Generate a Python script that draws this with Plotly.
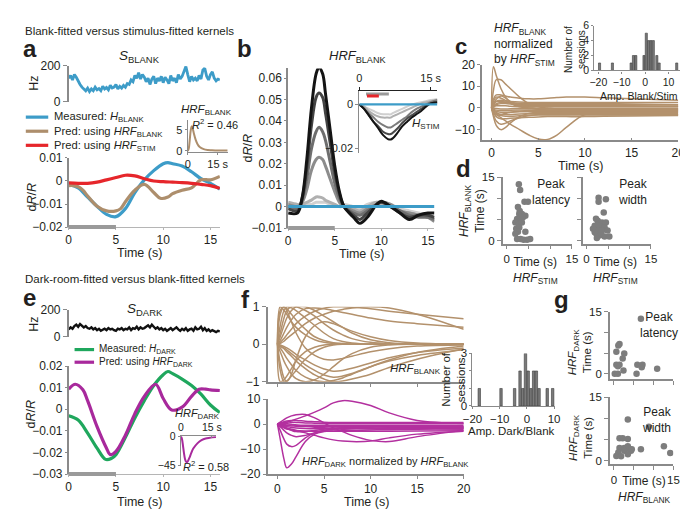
import plotly.graph_objects as go

W, H = 688, 511
FONT = "Liberation Sans, Arial, Helvetica, sans-serif"
TXT = "#231f20"
AXC = "#8a8a8a"
BLUE = "#3d9cc8"
TAN = "#ad8e6c"
TAN2 = "#b3916c"
RED = "#e6262b"
GREEN = "#1fa75d"
MAG = "#a8299c"
MAG2 = "#b3309f"
DOT = "#7d7d7d"
STIM = "#9a9a9a"

# ---------------- data ----------------
stim_window = [0, 5]

# panel a: S_BLANK (0..16 s, 0.2 s samples)
t_s = [round(0.2 * i, 1) for i in range(81)]
s_blank = [130, 145, 120, 150, 135, 110, 95, 80, 70, 60, 75,
           55, 70, 60, 80, 65, 72, 60, 85, 70, 78,
           65, 90, 75, 80, 95, 70, 85, 75, 90, 80,
           100, 95, 120, 110, 145, 130, 160, 125, 150, 135,
           110, 130, 95, 125, 140, 100, 130, 115, 140, 105,
           135, 120, 100, 145, 115, 130, 105, 150, 125, 140,
           165, 195, 150, 110, 140, 120, 130, 115, 145, 125,
           175, 185, 140, 120, 150, 165, 130, 115, 125, 120]

t_meas_a = [0, 1, 2, 3, 4, 5, 6, 7, 8, 9, 10, 10.5, 11, 12, 13, 14, 15, 16]
meas_blank = [-0.0015, -0.003, -0.007, -0.011, -0.0145, -0.0155, -0.012, -0.005, 0.0005, 0.0045,
              0.0075, 0.008, 0.0075, 0.0065, 0.004, 0.001, -0.001, -0.0035]
t_pred_a = [0, 0.5, 1, 1.5, 2, 3, 4, 5, 5.5, 6, 7, 8, 9, 9.7, 10.5, 11, 12, 13, 14, 15, 16]
pred_blank = [-0.002, -0.002, -0.0025, -0.004, -0.0065, -0.011, -0.013, -0.013, -0.012, -0.009,
              -0.004, -0.0015, -0.005, -0.0075, -0.007, -0.0055, -0.004, -0.003, 0.0005, 0.0005, 0.002]
t_stim_a = [0, 1, 2, 3, 4, 5, 6, 7, 8, 9, 10, 11, 12, 13, 14, 15, 16]
pred_stim = [-0.0008, -0.001, -0.001, -0.0005, 0.0005, 0.0015, 0.0025, 0.0022, 0.001, 0.0,
             -0.0003, -0.0005, -0.0007, -0.001, -0.0015, -0.002, -0.0032]

t_hrf_a = [0, 0.5, 1, 1.5, 2, 2.5, 3, 4, 5, 6, 8, 10, 12, 15, 20]
hrf_blank_a = [0, 0.5, 2.5, 4.8, 5.8, 5.3, 4.3, 2.6, 1.5, 0.9, 0.4, 0.2, 0.15, 0.1, 0.1]

# panel b: HRF_BLANK family
t_b = [0, 1, 1.5, 2, 2.5, 3, 3.3, 3.7, 4, 4.5, 5, 5.5, 6, 7, 7.7, 8.5, 9.5, 10, 11, 12, 13, 14, 15, 15.7]
b_lighter = [0.001, 0.001, 0.001, 0.001, 0.001, 0.002, 0.002, 0.002, 0.002, 0.001, 0.001, 0.000,
             0.001, 0.000, -0.001, 0.001, 0.002, 0.002, 0.001, -0.001, -0.002, -0.003, -0.004, -0.005]
b_light = [0.002, 0.001, 0.001, 0.002, 0.003, 0.0045, 0.0045, 0.004, 0.003, 0.002, 0.001, 0.000,
           0.000, -0.001, -0.002, 0.000, 0.002, 0.001, 0.000, -0.002, -0.003, -0.004, -0.005, -0.006]
b_mid = [0.001, 0.000, 0.002, 0.008, 0.017, 0.022, 0.023, 0.022, 0.019, 0.013, 0.007, 0.002,
         0.000, -0.002, -0.003, -0.001, 0.001, 0.002, 0.001, -0.002, -0.003, -0.004, -0.005, -0.007]
b_gray = [0.000, -0.001, 0.003, 0.013, 0.027, 0.035, 0.037, 0.035, 0.031, 0.021, 0.011, 0.004,
          0.000, -0.003, -0.004, -0.002, 0.001, 0.002, 0.000, -0.002, -0.004, -0.005, -0.005, -0.006]
b_dark = [-0.001, -0.002, 0.004, 0.018, 0.038, 0.051, 0.053, 0.051, 0.044, 0.030, 0.016, 0.006,
          0.000, -0.004, -0.006, -0.003, 0.001, 0.002, 0.000, -0.003, -0.005, -0.004, -0.004, -0.005]
b_black = [-0.003, -0.003, 0.004, 0.022, 0.046, 0.062, 0.065, 0.062, 0.053, 0.036, 0.019, 0.007,
           0.000, -0.005, -0.0078, -0.005, 0.001, 0.0025, 0.000, -0.003, -0.006, -0.004, -0.003, -0.003]
b_measured = [0, 0, 0, 0, 0, 0, 0, 0, 0, 0, 0, 0, 0, 0, 0, 0, 0, 0, 0, 0, 0, 0, 0, 0]

t_bin = [0, 1, 2, 3, 4, 5, 6, 6.6, 7, 8, 9, 10, 11, 12, 13, 14, 15, 16.4]
hs_black = [0.000, -0.002, -0.005, -0.008, -0.011, -0.014, -0.0158, -0.016, -0.0155, -0.013, -0.010,
            -0.008, -0.006, -0.0045, -0.003, -0.001, 0.0005, 0.001]
hs_dark = [0.000, -0.002, -0.005, -0.008, -0.010, -0.0125, -0.0135, -0.0135, -0.013, -0.011, -0.0085,
           -0.0065, -0.005, -0.0035, -0.002, -0.0005, 0.0005, 0.001]
hs_gray = [0.000, -0.002, -0.004, -0.006, -0.008, -0.0095, -0.0105, -0.0105, -0.010, -0.0085, -0.007,
           -0.0055, -0.0035, -0.002, -0.001, 0.000, 0.001, 0.002]
hs_light = [0.000, -0.001, -0.003, -0.0045, -0.0055, -0.006, -0.006, -0.006, -0.0055, -0.0045, -0.0035,
            -0.0025, -0.0015, -0.0005, 0.0005, 0.001, 0.0015, 0.002]
hs_lighter = [0.000, -0.001, -0.002, -0.003, -0.004, -0.0045, -0.0045, -0.0045, -0.004, -0.003, -0.002,
              -0.001, 0.000, 0.0005, 0.001, 0.0015, 0.002, 0.0025]
hs_blank_level = [0, 0]
hs_t_span = [0, 16.4]
inset_gray_bar = [1.4, 6.2]
inset_red_bar = [1.6, 4.1]

# panel c: HRF_BLANK normalized by HRF_STIM
t_c = [0, 0.2, 0.5, 1, 1.5, 2, 3, 4, 5, 6, 7, 8, 10, 12, 15, 20]
c_curves = [
    [0, 19, 15, 9, 5, 2.5, 0.5, 0, -0.5, -0.5, -0.5, -0.5, -0.5, -0.5, -0.5, -0.5],
    [0, 8, 13, 13, 11, 9, 5, 2, 0.5, 0, -0.5, -0.5, -0.5, -0.5, -0.5, -0.5],
    [0, 4, 6, 6, 5.5, 5, 4.5, 4.2, 4.2, 4.5, 4.8, 5, 5, 4.7, 4.3, 3.6],
    [0, 3, 5, 4.5, 3.5, 2.5, 1.5, 1, 1, 1, 1.2, 1.2, 1.2, 1, 1, 0.8],
    [0, 2, 3, 3, 2.8, 2.5, 2.2, 2, 2, 2, 2, 2, 2, 2, 1.8, 1.5],
    [0, -2, -3, -4.5, -6, -7.5, -10, -12.5, -14.3, -14.5, -12.5, -9, -3, -3, -3, -3],
    [0, -4, -8, -10, -9, -7, -4, -2.5, -2, -2, -2, -2, -2, -2, -2, -2],
    [0, -3, -6, -7.5, -7, -6, -4.5, -3.5, -3, -3, -3, -3, -3, -3, -3, -3],
    [0, -2, -4, -5, -5, -4.8, -4.5, -4.3, -4.2, -4, -4, -4, -4, -3.8, -3.7, -3.5],
    [0, -1, -2, -3, -3, -3, -2.8, -2.7, -2.6, -2.5, -2.5, -2.5, -2.5, -2.5, -2.5, -2.5],
    [0, 1, 2, 2.5, 2.5, 2.2, 1.8, 1.5, 1.5, 1.5, 1.5, 1.5, 1.5, 1.5, 1.5, 1.5],
    [0, -1, -1.5, -2, -2, -2, -1.8, -1.8, -1.7, -1.7, -1.7, -1.7, -1.7, -1.7, -1.7, -1.7],
    [0, 0.5, 1, 1, 1, 0.8, 0.6, 0.5, 0.5, 0.5, 0.5, 0.5, 0.5, 0.5, 0.5, 0.5],
    [0, -0.5, -1, -1.2, -1.2, -1.1, -1, -1, -1, -1, -1, -1, -1, -1, -1, -1],
    [0, 0, -0.3, -0.5, -0.5, -0.4, -0.3, -0.3, -0.3, -0.3, -0.3, -0.3, -0.3, -0.3, -0.3, -0.3],
    [0, 1.5, 3, 3.5, 3.2, 3, 2.7, 2.5, 2.5, 2.5, 2.5, 2.5, 2.5, 2.5, 2.5, 2.5],
    [0, -2, -3, -3.5, -3.8, -3.8, -3.6, -3.4, -3.3, -3.3, -3.3, -3.3, -3.3, -3.3, -3.3, -3.3],
    [0, 2, 4, 5.5, 4.5, 3, 1, 0, -0.5, -1, -1.2, -1.3, -1.3, -1.3, -1.3, -1.3],
    [0, -1.5, -2.5, -3, -2.5, -2, -1.5, -1.2, -1.2, -1.2, -1.2, -1.2, -1.2, -1.2, -1.2, -1.2],
    [0, 0.5, 1.5, 2, 2, 1.8, 1.2, 0.8, 0.7, 0.7, 0.7, 0.7, 0.7, 0.7, 0.7, 0.7],
]
c_hist_x = [-19.5, -14, -6, -5, -4, -0.5, 0.5, 1.5, 2.5, 3.5, 5, 6, 13.5]
c_hist_y = [1, 1, 1, 2, 2, 2, 5, 4, 4, 4, 2, 1, 1]

# panel d: peak latency / width, HRF_STIM (x) vs HRF_BLANK (y)
d_lat_x = [2.8, 3.1, 4.1, 4.9, 2.9, 3.5, 4.3, 2.4, 3.2, 2.0, 2.8, 3.5, 2.2, 2.9, 2.6, 4.3,
           2.4, 3.2, 3.9, 4.7, 5.4, 2.0, 3.7, 3.0, 2.6]
d_lat_y = [13.4, 12.0, 9.2, 9.2, 6.3, 6.3, 5.9, 5.1, 4.7, 4.3, 3.9, 4.3, 2.8, 3.1, 2.1, 2.1,
           0.4, 0.4, 0.2, 0.2, 0.4, 1.6, 5.5, 7.0, 8.0]
d_wid_x = [2.8, 2.8, 4.5, 4.0, 2.6, 3.6, 4.5, 1.9, 3.0, 4.2, 1.5, 2.6, 3.6, 4.9, 2.3, 3.0,
           4.2, 5.3, 1.9, 3.4, 2.4, 2.2]
d_wid_y = [10.2, 9.2, 9.8, 6.7, 4.7, 4.3, 4.3, 3.5, 3.5, 3.1, 2.8, 2.4, 2.4, 2.4, 1.6, 1.2,
           1.0, 1.0, 2.0, 1.8, 0.6, 5.2]

# panel e: S_DARK and dark-room kernels
s_dark = [55, 70, 60, 80, 90, 75, 95, 85, 70, 80, 65,
          60, 70, 55, 65, 50, 60, 45, 55, 60, 50,
          65, 55, 60, 50, 45, 60, 55, 65, 50, 60,
          55, 70, 50, 65, 60, 75, 55, 70, 60, 65,
          75, 85, 70, 90, 75, 60, 70, 55, 65, 50,
          60, 45, 55, 65, 50, 60, 70, 55, 45, 60,
          50, 65, 45, 55, 60, 45, 70, 55, 60, 75,
          50, 65, 45, 55, 40, 50, 45, 35, 45, 40]
t_meas_e = [0, 1, 2, 3, 3.9, 4.5, 5, 6, 7, 8, 9, 10, 10.5, 11, 12, 13, 14, 15, 16]
meas_dark = [-0.003, -0.005, -0.011, -0.018, -0.0232, -0.0228, -0.021, -0.013, -0.004, 0.004, 0.011,
             0.016, 0.0175, 0.0165, 0.014, 0.011, 0.007, 0.002, -0.0015]
t_pred_e = [0, 0.7, 1.5, 2, 3, 4, 4.4, 5, 6, 7, 8, 9.2, 10, 10.9, 12, 13, 13.8, 14.5, 15, 16]
pred_dark = [0.0093, 0.0116, 0.009, 0.004, -0.008, -0.018, -0.021, -0.0195, -0.012, -0.002, 0.006,
             0.0116, 0.005, -0.0003, 0.001, 0.006, 0.0093, 0.0093, 0.009, 0.0087]
t_hrf_e = [0, 0.5, 1, 1.5, 2, 2.5, 3, 4, 5, 6, 8, 10, 12, 14, 17]
hrf_dark_e = [0, -4, -14, -26, -35, -39, -40, -34, -26, -19, -11, -6, -3.5, -2.5, -1.5]

# panel f: HRF_BLANK (normalized) and HRF_DARK normalized by HRF_BLANK
t_f = [0, 0.3, 0.7, 1, 1.5, 2, 3, 4, 5, 6, 7, 8, 10, 12, 15, 20]
f_top = [
    [0, 1, 0.9, 0.8, 0.6, 0.45, 0.25, 0.12, 0.05, 0.02, 0, 0, 0, 0, 0, 0],
    [0, 0.9, 1, 0.95, 0.8, 0.65, 0.4, 0.2, 0.1, 0.04, 0.02, 0, 0, 0, 0, 0],
    [0, 0.5, 0.9, 1, 0.97, 0.9, 0.7, 0.5, 0.3, 0.15, 0.07, 0.03, 0, 0, 0, 0],
    [0, 0.3, 0.7, 0.9, 1, 1, 0.9, 0.75, 0.55, 0.38, 0.25, 0.15, 0.05, 0.01, 0, 0],
    [0, 0.2, 0.5, 0.7, 0.9, 1, 1, 0.9, 0.75, 0.6, 0.45, 0.3, 0.12, 0.04, 0, 0],
    [0, 0.1, 0.3, 0.45, 0.65, 0.8, 0.95, 0.97, 0.95, 0.9, 0.85, 0.8, 0.7, 0.62, 0.55, 0.45],
    [0, 0.05, 0.15, 0.25, 0.4, 0.55, 0.75, 0.88, 0.96, 1, 1, 0.99, 0.95, 0.88, 0.8, 0.68],
    [0, 0.02, 0.08, 0.15, 0.25, 0.35, 0.55, 0.7, 0.8, 0.88, 0.93, 0.97, 1, 0.97, 0.8, 0.4],
    [0, -1, -0.95, -0.85, -0.65, -0.45, -0.2, -0.08, -0.02, 0, 0, 0, 0, 0, 0, 0],
    [0, -0.7, -1, -0.98, -0.85, -0.7, -0.4, -0.2, -0.08, -0.02, 0, 0, 0, 0, 0, 0],
    [0, -0.2, -0.45, -0.6, -0.8, -0.92, -1, -0.95, -0.8, -0.6, -0.4, -0.25, -0.08, -0.02, 0, 0],
    [0, -0.1, -0.25, -0.38, -0.55, -0.7, -0.88, -0.97, -1, -0.97, -0.9, -0.8, -0.6, -0.42, -0.22, -0.05],
    [0, -0.05, -0.12, -0.2, -0.32, -0.45, -0.65, -0.82, -0.93, -1, -0.98, -0.93, -0.8, -0.62, -0.4, -0.12],
    [0, -0.05, -0.1, -0.15, -0.25, -0.35, -0.55, -0.7, -0.82, -0.88, -0.85, -0.78, -0.6, -0.45, -0.3, -0.15],
    [0, -0.02, -0.06, -0.1, -0.18, -0.27, -0.42, -0.56, -0.66, -0.72, -0.7, -0.64, -0.5, -0.36, -0.22, -0.1],
    [0, 0.8, 1, 0.9, 0.6, 0.3, -0.1, -0.3, -0.4, -0.42, -0.38, -0.32, -0.2, -0.12, -0.05, -0.02],
    [0, -0.5, -0.9, -1, -0.8, -0.4, 0.2, 0.5, 0.6, 0.55, 0.45, 0.35, 0.2, 0.1, 0.03, 0],
]
f_bottom = [
    [0, 0.2, 0.5, 0.8, 1.3, 2, 3.3, 4.8, 6.5, 8.5, 9.4, 9.2, 7.5, 4.5, 1.5, 0.3],
    [0, 0.8, 1.8, 2.5, 3.3, 3.8, 3.9, 2.5, 0.5, -1.5, -3, -4.5, -6.5, -7, -5, -2.5],
    [0, -6, -14, -17.5, -16, -13, -7, -4, -3, -2.7, -2.5, -2.5, -2.3, -2.2, -2, -2],
    [0, -2.5, -6, -8, -9, -8.5, -5.5, -3.5, -2.5, -2, -2, -1.8, -1.8, -1.7, -1.6, -1.5],
    [0, -1, -2.5, -3.5, -4.5, -5, -4.5, -3.5, -2.5, -2, -1.5, -1.2, -1, -1, -1, -1],
    [0, -0.5, -1, -1.5, -2, -2.5, -3.5, -4.5, -5.5, -6.3, -6.8, -7, -6.8, -5.5, -4, -2.8],
    [0, -0.3, -0.7, -1, -1.3, -1.5, -1.7, -1.8, -1.8, -1.8, -1.8, -1.8, -1.8, -1.8, -1.8, -1.8],
    [0, 0.3, 0.6, 0.8, 0.8, 0.7, 0.5, 0.4, 0.3, 0.3, 0.3, 0.3, 0.3, 0.3, 0.3, 0.3],
    [0, -0.2, -0.4, -0.6, -0.7, -0.8, -0.9, -0.9, -0.9, -0.9, -0.9, -0.9, -0.9, -0.9, -0.9, -0.9],
    [0, 0.5, 1, 1.3, 1.5, 1.5, 1.2, 1, 0.8, 0.7, 0.7, 0.7, 0.7, 0.7, 0.7, 0.7],
    [0, -0.8, -1.5, -2, -2.3, -2.5, -2.7, -2.8, -2.8, -2.8, -2.8, -2.8, -2.8, -2.8, -2.7, -2.6],
    [0, -0.1, -0.2, -0.3, -0.35, -0.4, -0.4, -0.4, -0.4, -0.4, -0.4, -0.4, -0.4, -0.4, -0.4, -0.4],
    [0, -0.5, -1.2, -1.8, -2.5, -3, -3, -2.5, -2, -1.6, -1.4, -1.3, -1.2, -1.2, -1.2, -1.2],
    [0, 0.2, 0.3, 0.2, 0, -0.3, -0.8, -1.2, -1.4, -1.5, -1.5, -1.5, -1.5, -1.5, -1.5, -1.5],
]
f_hist_x = [-17.5, -9.5, -4.5, -2.5, -1.5, -0.5, 0.5, 1.5, 2.5, 3.5, 4.5, 7.5, 9.5]
f_hist_y = [1, 1, 1, 2, 1, 3, 2, 1, 2, 2, 1, 1, 1]

# panel g: HRF_BLANK (x) vs HRF_DARK (y)
g_lat_x = [6.8, 1.4, 1.1, 0.6, 2.6, 2.2, 0.6, 1.0, 1.4, 2.4, 0.2, 1.0, 5.7, 5.9, 7.2, 7.0, 10.9]
g_lat_y = [13.3, 7.2, 6.8, 5.3, 4.9, 3.7, 2.2, 1.8, 2.2, 0.8, 0.0, 0.0, 0.0, 2.2, 2.2, 1.6, 1.2]
g_wid_x = [3.5, 8.8, 1.4, 2.2, 3.5, 12.6, 6.8, 1.4, 2.6, 3.5, 3.9, 4.3, 1.1, 0.6, 1.8, 2.6, 3.5, 14.2, 4.5]
g_wid_y = [9.7, 8.0, 5.3, 5.3, 5.1, 3.4, 2.7, 3.0, 3.0, 3.4, 2.8, 2.3, 1.9, 1.1, 1.0, 2.3, 1.5, 1.8, 2.7]

# ---------------- helpers ----------------
fig = go.Figure()
axes_layout = {}
ann = []
shapes = []
counter = [0]


def make_axes(px, py, xr, yr, xt=None, xl=None, yt=None, yl=None, showx=True, showy=True,
              xside='bottom', xc=AXC, yc=AXC, xw=1.5, yw=1.6, fs=12, tl=4,
              xminor=None, yminor=None, xticks='outside'):
    counter[0] += 1
    k = counter[0]
    s = '' if k == 1 else str(k)
    base = dict(showgrid=False, zeroline=False, showline=True, ticks='outside', ticklen=tl,
                tickwidth=1, fixedrange=True)
    xa = dict(base, domain=[px[0] / W, px[1] / W], range=xr, anchor='y' + s, side=xside,
              linecolor=xc, linewidth=xw, tickcolor=xc, visible=showx,
              tickfont=dict(family=FONT, size=fs, color=TXT))
    xa['ticks'] = xticks
    ya = dict(base, domain=[1 - py[1] / H, 1 - py[0] / H], range=yr, anchor='x' + s,
              linecolor=yc, linewidth=yw, tickcolor=yc, visible=showy,
              tickfont=dict(family=FONT, size=fs, color=TXT))
    if xt is not None:
        xa['tickmode'] = 'array'
        xa['tickvals'] = xt
        if xl is None:
            xa['showticklabels'] = False
        else:
            xa['ticktext'] = xl
    if yt is not None:
        ya['tickmode'] = 'array'
        ya['tickvals'] = yt
        if yl is None:
            ya['showticklabels'] = False
        else:
            ya['ticktext'] = yl
    if xminor is not None:
        xa['minor'] = dict(tickmode='array', tickvals=xminor, ticks=xticks, ticklen=tl,
                           tickwidth=1, tickcolor=xc, showgrid=False)
    if yminor is not None:
        ya['minor'] = dict(tickmode='array', tickvals=yminor, ticks='outside', ticklen=tl,
                           tickwidth=1, tickcolor=yc, showgrid=False)
    axes_layout['xaxis' + s] = xa
    axes_layout['yaxis' + s] = ya
    return s, xr


def line(s, x, y, color, width, shape='spline'):
    fig.add_trace(go.Scatter(x=x, y=y, mode='lines', xaxis='x' + s, yaxis='y' + s,
                             line=dict(color=color, width=width, shape=shape),
                             showlegend=False, hoverinfo='skip'))


def dots(s, x, y):
    fig.add_trace(go.Scatter(x=x, y=y, mode='markers', xaxis='x' + s, yaxis='y' + s,
                             marker=dict(size=6.5, color=DOT), showlegend=False, hoverinfo='skip'))


def bars(s, x, y):
    fig.add_trace(go.Bar(x=x, y=y, width=0.9, xaxis='x' + s, yaxis='y' + s,
                         marker=dict(color='#7a7a7a', line=dict(color='#3a3a3a', width=0.6)),
                         showlegend=False, hoverinfo='skip'))


def stim_bar(ax, window, width=4, color=STIM):
    s, xr = ax
    f0 = (window[0] - xr[0]) / (xr[1] - xr[0])
    f1 = (window[1] - xr[0]) / (xr[1] - xr[0])
    shapes.append(dict(type='line', xref='x' + s + ' domain', yref='y' + s + ' domain',
                       x0=f0, x1=f1, y0=0, y1=0, line=dict(color=color, width=width)))


def T(x, y, text, size=12, anchor='center', angle=0, bold=False, align='center'):
    if bold:
        text = '<b>' + text + '</b>'
    ann.append(dict(x=x / W, y=1 - y / H, xref='paper', yref='paper', text=text, showarrow=False,
                    font=dict(family=FONT, size=size, color=TXT), xanchor=anchor, yanchor='middle',
                    textangle=angle, align=align))


def legend_line(x0, x1, y, color, width):
    shapes.append(dict(type='line', xref='paper', yref='paper', x0=x0 / W, x1=x1 / W,
                       y0=1 - y / H, y1=1 - y / H, line=dict(color=color, width=width)))


# ---------------- panel a ----------------
a1 = make_axes((52, 207), (52, 89), [0, 16], [0, 200], yt=[0, 200], yl=['0', '200'], showx=False)
line(a1[0], t_s, s_blank, BLUE, 2.8, 'linear')
a2 = make_axes((52, 207), (147, 218), [0, 16], [-0.02, 0.01], xt=[0, 5, 10, 15],
               xl=['0', '5', '10', '15'], yt=[-0.02, -0.01, 0, 0.01],
               yl=['\u22120.02', '\u22120.01', '0', '0.01'], xc='#b5b5b5', xw=1, tl=2)
line(a2[0], t_meas_a, meas_blank, BLUE, 3.2)
line(a2[0], t_pred_a, pred_blank, TAN, 3.2)
line(a2[0], t_stim_a, pred_stim, RED, 3.2)
stim_bar(a2, stim_window)
a3 = make_axes((174, 215), (108, 141), [0, 20], [-0.3, 7.3], xt=[0, 15], xl=['0', '15 s'],
               yt=[0, 5], yl=['0', '5'], fs=11, xw=1.2, yw=1.2, tl=2)
line(a3[0], t_hrf_a, hrf_blank_a, TAN, 2)

T(5, 16, "Blank-fitted versus stimulus-fitted kernels", 11.5, 'left')
T(12, 34, "a", 24, bold=True)
T(125, 43, "<i>S</i><sub>BLANK</sub>", 13.5)
T(16, 70, "Hz", 12.5, angle=-90)
legend_line(8, 31, 105, BLUE, 3.2)
legend_line(8, 31, 119.5, TAN, 3.2)
legend_line(8, 31, 134, RED, 3.2)
T(35, 119.5, "Measured: <i>H</i><sub>BLANK</sub><br>Pred: using <i>HRF</i><sub>BLANK</sub><br>"
             "Pred: using <i>HRF</i><sub>STIM</sub>", 11.2, 'left', align='left')
T(193, 98, "<i>HRF</i><sub>BLANK</sub>", 11.5)
T(202, 112, "<i>R</i><sup>2</sup> = 0.46", 11)
T(14, 187, "d<i>R</i>/<i>R</i>", 12.5, angle=-90)
T(125, 245, "Time (s)", 12.5)

# ---------------- panel b ----------------
b1 = make_axes((277, 427), (55, 219), [0, 15.7], [-0.01, 0.0645], xt=[0, 5, 10, 15],
               xl=['0', '5', '10', '15'],
               yt=[-0.01, 0, 0.01, 0.02, 0.03, 0.04, 0.05, 0.06],
               yl=['\u22120.01', '0', '0.01', '0.02', '0.03', '0.04', '0.05', '0.06'],
               xc='#b5b5b5', xw=1, tl=2)
line(b1[0], t_b, b_lighter, '#d0d0d0', 3)
line(b1[0], t_b, b_light, '#b0b0b0', 3)
line(b1[0], t_b, b_mid, '#8c8c8c', 3)
line(b1[0], t_b, b_gray, '#6e6e6e', 3)
line(b1[0], t_b, b_dark, '#444444', 3)
line(b1[0], t_b, b_black, '#141414', 3)
line(b1[0], t_b, b_measured, BLUE, 3, 'linear')
stim_bar(b1, stim_window)
b2 = make_axes((350, 430), (78, 141.5), [0, 16.4], [-0.022, 0.0062], xt=[0, 15], xl=['0', '15 s'],
               yt=[-0.02, 0], yl=['\u22120.02', '0'], xside='top', xc='#222222', xw=1.2, yw=1.2,
               fs=11, tl=3)
line(b2[0], t_bin, hs_lighter, '#d0d0d0', 2)
line(b2[0], t_bin, hs_light, '#b0b0b0', 2)
line(b2[0], t_bin, hs_gray, '#7c7c7c', 2)
line(b2[0], t_bin, hs_dark, '#4a4a4a', 2)
line(b2[0], t_bin, hs_black, '#141414', 2)
line(b2[0], hs_t_span, hs_blank_level, BLUE, 2.2, 'linear')
line(b2[0], inset_gray_bar, [0.0048, 0.0048], STIM, 3, 'linear')
line(b2[0], inset_red_bar, [0.0039, 0.0039], RED, 3, 'linear')

T(232, 34, "b", 24, bold=True)
T(348, 43, "<i>HRF</i><sub>BLANK</sub>", 13)
T(236, 137, "d<i>R</i>/<i>R</i>", 12.5, angle=-90)
T(352, 246, "Time (s)", 12.5)
T(418, 112, "<i>H</i><sub>STIM</sub>", 11.5)

# ---------------- panel c ----------------
c1 = make_axes((476, 677), (51, 129), [-1, 20], [-15, 20], xt=[0, 5, 10, 15, 20],
               xl=['0', '5', '10', '15', '20'], yt=[-10, 0, 10, 20], yl=['\u221210', '0', '10', '20'],
               xticks='inside', tl=3)
for cv in c_curves:
    line(c1[0], t_c, cv, TAN2, 1.5)
c2 = make_axes((591, 679), (11, 57), [-21.7, 15], [0, 6], xt=[-20, -10, 0, 10],
               xl=['\u221220', '\u221210', '0', '10'], yt=[0, 2, 4, 6], yl=['0', '2', '4', '6'],
               fs=10.5, xw=1.2, yw=1.2, tl=2)
bars(c2[0], c_hist_x, c_hist_y)

T(454, 32, "c", 22, bold=True)
T(486, 30, "<i>HRF</i><sub>BLANK</sub><br>normalized<br>by <i>HRF</i><sub>STIM</sub>", 12, 'left',
  align='left')
T(571, 35, "Number of<br>sessions", 10, angle=-90)
T(637, 83, "Amp. Blank/Stim", 10.5)
T(577, 155, "Time (s)", 12.5)

# ---------------- panel d ----------------
d1 = make_axes((497, 568), (167, 235), [-0.9, 15], [-0.7, 15], xt=[0, 15], xl=['0', '15'],
               yt=[0, 15], yl=['0', '15'], fs=11.5, xminor=[5, 10], yminor=[5, 10])
dots(d1[0], d_lat_x, d_lat_y)
d2 = make_axes((579, 649), (167, 235), [-0.9, 15], [-0.7, 15], xt=[0, 15], xl=['0', '15'],
               yt=[0, 5, 10, 15], fs=11.5, xminor=[5, 10])
dots(d2[0], d_wid_x, d_wid_y)

T(457, 158, "d", 24, bold=True)
T(546, 182, "Peak<br>latency", 12)
T(631, 182, "Peak<br>width", 12)
T(531, 263, "Time (s)<br><i>HRF</i><sub>STIM</sub>", 12)
T(613, 263, "Time (s)<br><i>HRF</i><sub>STIM</sub>", 12)
T(466, 201, "<i>HRF</i><sub>BLANK</sub><br>Time (s)", 12, angle=-90)

# ---------------- panel e ----------------
e1 = make_axes((52, 207), (303, 331), [0, 16], [0, 200], yt=[0, 200], yl=['0', '200'], showx=False)
line(e1[0], t_s, s_dark, '#111111', 2.4, 'linear')
e2 = make_axes((52, 207), (361, 472), [0, 16], [-0.03, 0.02], xt=[0, 5, 10, 15],
               xl=['0', '5', '10', '15'], yt=[-0.03, -0.02, -0.01, 0, 0.01, 0.02],
               yl=['\u22120.03', '\u22120.02', '\u22120.01', '0', '0.01', '0.02'], xc='#b5b5b5', xw=1,
               tl=2)
line(e2[0], t_meas_e, meas_dark, GREEN, 3.2)
line(e2[0], t_pred_e, pred_dark, MAG, 3.2)
stim_bar(e2, stim_window)
e3 = make_axes((167, 203), (433, 464), [0, 17], [-46, 0], xt=[0, 15], xl=['0', '15 s'],
               yt=[-45, 0], yl=['\u221245', '0'], xside='top', xw=1.2, yw=1.2, fs=10.5, tl=2,
               xticks='inside')
line(e3[0], t_hrf_e, hrf_dark_e, MAG, 2)

T(5, 271, "Dark-room-fitted versus blank-fitted kernels", 11.5, 'left')
T(12, 290, "e", 24, bold=True)
T(130, 303, "<i>S</i><sub>DARK</sub>", 13.5)
T(17, 318, "Hz", 12.5, angle=-90)
legend_line(58, 78, 344, GREEN, 3.2)
legend_line(58, 78, 357, MAG, 3.2)
T(81, 350.5, "Measured: <i>H</i><sub>DARK</sub><br>Pred: using <i>HRF</i><sub>DARK</sub>", 10,
  'left', align='left')
T(13, 410, "d<i>R</i>/<i>R</i>", 12.5, angle=-90)
T(125, 501, "Time (s)", 12.5)
T(184, 410, "<i>HRF</i><sub>DARK</sub>", 11)
T(193, 464, "<i>R</i><sup>2</sup> = 0.58", 11)

# ---------------- panel f ----------------
f1 = make_axes((256, 457), (300, 377), [-1.05, 20], [-1, 1], xt=[0, 5, 10, 15, 20],
               yt=[-1, 0, 1], yl=['\u22121', '0', '1'])
for cv in f_top:
    line(f1[0], t_f, cv, TAN2, 1.5)
f2 = make_axes((256, 457), (395, 472), [-1.05, 20], [-20, 10], xt=[0, 5, 10, 15, 20],
               xl=['0', '5', '10', '15', '20'], yt=[-20, -10, 0, 10],
               yl=['\u221220', '\u221210', '0', '10'], tl=3)
for cv in f_bottom:
    line(f2[0], t_f, cv, MAG2, 1.5)
f3 = make_axes((466, 551), (348, 402), [-20, 10.5], [0, 3], xt=[-20, -10, 0, 10],
               xl=['\u221220', '\u221210', '0', '10'], yt=[0, 3], yl=['0', '3'],
               fs=11.5, xw=1.2, yw=1.2, tl=2, yminor=[1, 2])
bars(f3[0], f_hist_x, f_hist_y)

T(233, 293, "f", 24, bold=True)
T(408, 364, "<i>HRF</i><sub>BLANK</sub>", 11.5)
T(377, 460, "<i>HRF</i><sub>DARK</sub> normalized by <i>HRF</i><sub>BLANK</sub>", 11)
T(357, 501, "Time (s)", 12.5)
T(447, 375, "Number of<br>sessions", 11.5, angle=-90)
T(506, 428, "Amp. Dark/Blank", 11.5)

# ---------------- panel g ----------------
g1 = make_axes((607, 672), (305, 374), [-1, 15], [-1.2, 15], xt=[0, 5, 10, 15],
               yt=[0, 15], yl=['0', '15'], fs=11.5, yminor=[5, 10])
dots(g1[0], g_lat_x, g_lat_y)
g2 = make_axes((607, 672), (393, 462), [-1, 15], [-0.9, 15], xt=[0, 15], xl=['0', '15'],
               yt=[0, 15], yl=['0', '15'], fs=11.5, xminor=[5, 10], yminor=[5, 10])
dots(g2[0], g_wid_x, g_wid_y)

T(557, 293, "g", 24, bold=True)
T(657, 319, "Peak<br>latency", 12)
T(655, 416, "Peak<br>width", 12)
T(576, 346, "<i>HRF</i><sub>DARK</sub><br>Time (s)", 11.5, angle=-90)
T(576, 434, "<i>HRF</i><sub>DARK</sub><br>Time (s)", 11.5, angle=-90)
T(642, 488, "Time (s)<br><i>HRF</i><sub>BLANK</sub>", 12)

fig.update_layout(
    width=W, height=H, autosize=False,
    margin=dict(l=0, r=0, t=0, b=0, pad=0),
    paper_bgcolor='white', plot_bgcolor='rgba(0,0,0,0)',
    font=dict(family=FONT, color=TXT),
    showlegend=False, bargap=0.1,
    annotations=ann, shapes=shapes,
    **axes_layout
)

fig.write_html("out.html", config={'displayModeBar': False})
